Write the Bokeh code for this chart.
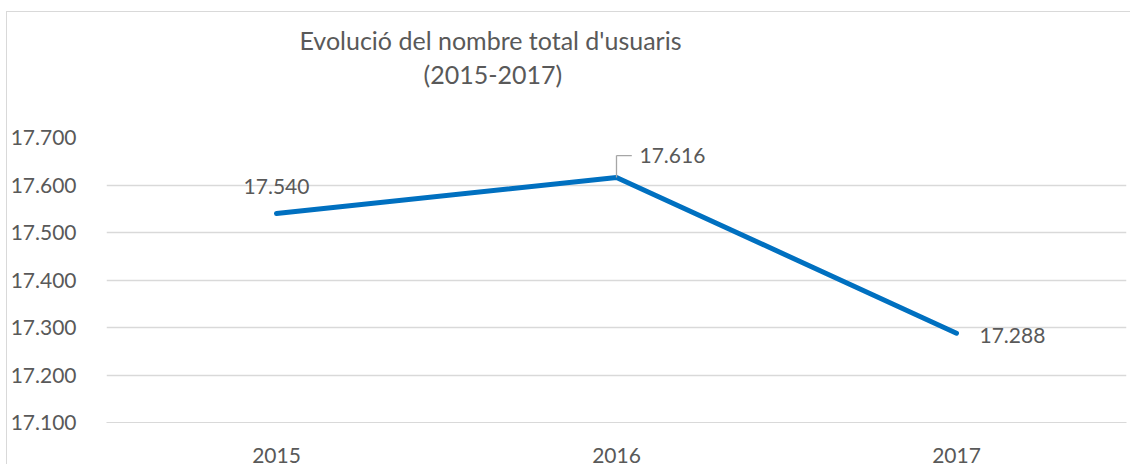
from bokeh.plotting import figure
from bokeh.models import FactorRange, Range1d, FixedTicker, Title, ColumnDataSource
from bokeh.transform import dodge
from bokeh.core.properties import value
from bokeh.embed import file_html
from bokeh.resources import INLINE

years = ["2015", "2016", "2017"]
users = [17540, 17616, 17288]
y_ticks = [17100, 17200, 17300, 17400, 17500, 17600, 17700]
y_tick_labels = ["17.100", "17.200", "17.300", "17.400", "17.500", "17.600", "17.700"]
title_lines = ["Evolució del nombre total d'usuaris", "(2015-2017)"]

FONT = "Lato"
TXT = "#595959"
GRID = "#D9D9D9"
BLUE = "#0070C0"
FS = "21px"
TFS = "25px"

def fmt(v):
    return f"{v:,}".replace(",", ".")

p = figure(
    x_range=FactorRange(factors=years, range_padding=0),
    y_range=Range1d(y_ticks[0], y_ticks[-1]),
    width=1124, height=453,
    min_border_left=94, min_border_right=5, min_border_top=125, min_border_bottom=41,
    output_backend="svg", toolbar_location=None,
)
p.margin = (11, 0, 0, 6)
p.styles = {"border-top": "1px solid #D9D9D9", "border-left": "1px solid #D9D9D9"}
p.outline_line_color = None
p.background_fill_color = "white"
p.border_fill_color = "white"

p.xgrid.grid_line_color = None
p.ygrid.grid_line_color = GRID
p.ygrid.grid_line_width = 1.3

p.yaxis.ticker = FixedTicker(ticks=y_ticks)
p.yaxis.major_label_overrides = {t: l for t, l in zip(y_ticks, y_tick_labels)}
for ax in (p.xaxis, p.yaxis):
    ax.axis_line_color = None
    ax.major_tick_line_color = None
    ax.minor_tick_line_color = None
    ax.major_label_text_font = FONT
    ax.major_label_text_font_size = FS
    ax.major_label_text_color = TXT
p.yaxis.major_label_standoff = 24
p.xaxis.major_label_standoff = 19
p.xaxis.axis_line_color = GRID

p.line(x=years, y=users, line_color=BLUE, line_width=5, line_cap="round", line_join="round")

# data labels
offsets = [(0, -27, "center"), (23, -22, "left"), (23, 2, "left")]
for i, (dx, dy, al) in enumerate(offsets):
    p.text(x=[years[i]], y=[users[i]], text=[fmt(users[i])], x_offset=dx, y_offset=dy,
           text_align=al, text_baseline="middle", text_font=value(FONT),
           text_font_size=FS, text_color=TXT)

# leader line for 2016 label
lead_h = 46
src = ColumnDataSource(dict(x=[years[1]], y0=[users[1]], y1=[users[1] + lead_h]))
p.segment(x0=dodge("x", 0, range=p.x_range), x1=dodge("x", 0, range=p.x_range),
          y0="y0", y1="y1", source=src, line_color="#A6A6A6", line_width=1.3)
p.segment(x0=dodge("x", 0, range=p.x_range), x1=dodge("x", 0.045, range=p.x_range),
          y0="y1", y1="y1", source=src, line_color="#A6A6A6", line_width=1.3)

# title (stacked above the frame: spacer, line 2, line 1)
p.title.text = ""
p.add_layout(Title(text=" ", text_font_size="30px", text_font=FONT), "above")
p.add_layout(Title(text=title_lines[1], align="left", offset=317, standoff=2, text_font=FONT,
                   text_font_size=TFS, text_font_style="normal", text_color=TXT), "above")
p.add_layout(Title(text=title_lines[0], align="left", offset=193, standoff=2, text_font=FONT,
                   text_font_size=TFS, text_font_style="normal", text_color=TXT), "above")

open("out.html", "w").write(file_html(p, INLINE))
